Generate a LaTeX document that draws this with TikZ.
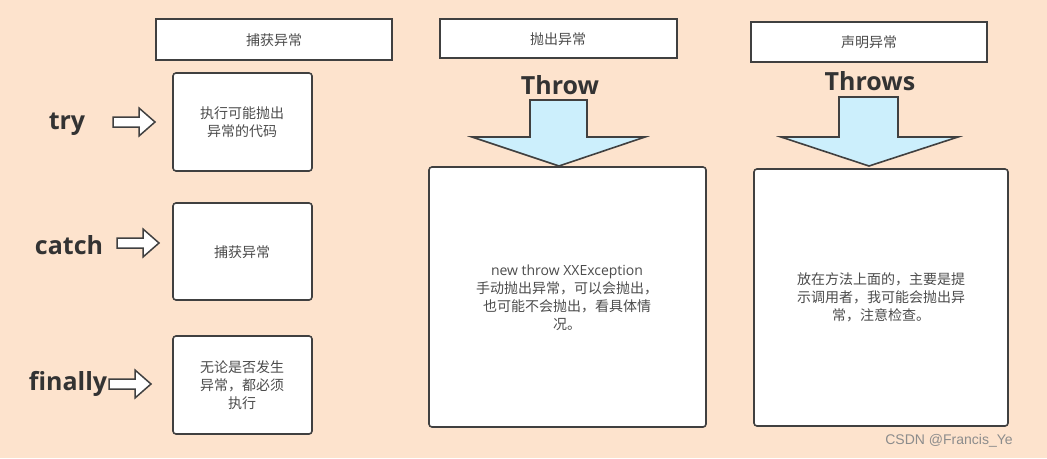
\documentclass[tikz,border=0pt]{standalone}
\usepackage{fontspec}
\setmainfont{Open Sans}
\newfontfamily\cjk{Noto Sans CJK SC}
\begin{document}
\begin{tikzpicture}[x=1pt,y=-1pt,
  box/.style={draw=black!75,line width=1.6pt,fill=white,rounded corners=3pt},
  hdr/.style={draw=black!75,line width=1.6pt,fill=white},
  kw/.style={font=\bfseries\fontsize{25}{25}\selectfont,text=black!80},
  txt/.style={font=\cjk\fontsize{14}{18}\selectfont,text=black!70,align=center},
  harrow/.style={draw=black!75,line width=1.5pt,fill=white},
  darrow/.style={draw=black!75,line width=1.6pt,fill=cyan!20}]
\fill[fill={rgb,255:red,253;green,227;blue,205}] (0,0) rectangle (1047,458);
\useasboundingbox (0,0) rectangle (1047,458);
% headers
\draw[hdr] (156,19) rectangle (392,60);
\node[txt] (h1) at (274,40) {捕获异常};
\draw[hdr] (440,19) rectangle (677,58);
\node[txt] (h2) at (558,39) {抛出异常};
\draw[hdr] (751,22) rectangle (987,62);
\node[txt] (h3) at (869,42) {声明异常};
% left boxes
\draw[box] (173,73) rectangle (312,171);
\node[txt] (b1) at (242,122) {执行可能抛出\\异常的代码};
\draw[box] (173,203) rectangle (312,300);
\node[txt] (b2) at (242,252) {捕获异常};
\draw[box] (173,336) rectangle (312,434);
\node[txt] (b3) at (242,385) {无论是否发生\\异常，都必须\\执行};
% keywords
\node[kw] (k1) at (67,124) {try};
\node[kw] (k2) at (69,245) {catch};
\node[kw] (k3) at (68,384) {finally};
% hollow arrows
\foreach \x/\y in {113/122,117/243,109/384}{
  \draw[harrow] (\x,\y-5) -- (\x+26,\y-5) -- (\x+26,\y-14) -- (\x+42,\y) -- (\x+26,\y+14) -- (\x+26,\y+5) -- (\x,\y+5) -- cycle;
}
% Throw
\node[kw] (t1) at (560,85) {Throw};
\draw[darrow] (530,100) -- (587,100) -- (587,137) -- (645,137) -- (559,166) -- (472,137) -- (530,137) -- cycle;
\node[kw] (t2) at (870,81) {Throws};
\draw[darrow] (839,97) -- (898,97) -- (898,137) -- (958,137) -- (869,166) -- (781,137) -- (839,137) -- cycle;
% big boxes
\draw[box] (429,167) rectangle (706,427);
\node[txt] (c1) at (567,298) {{\fontspec{Open Sans}new throw XXException}\\手动抛出异常，可以会抛出，\\也可能不会抛出，看具体情\\况。};
\draw[box] (754,169) rectangle (1008,426);
\node[txt] (c2) at (881,297) {放在方法上面的，主要是提\\示调用者，我可能会抛出异\\常，注意检查。};
\node[font=\fontspec{Liberation Sans}\fontsize{14}{14}\selectfont,text=black!45] (w) at (949,441) {CSDN @Francis\_Ye};
\end{tikzpicture}
\end{document}
